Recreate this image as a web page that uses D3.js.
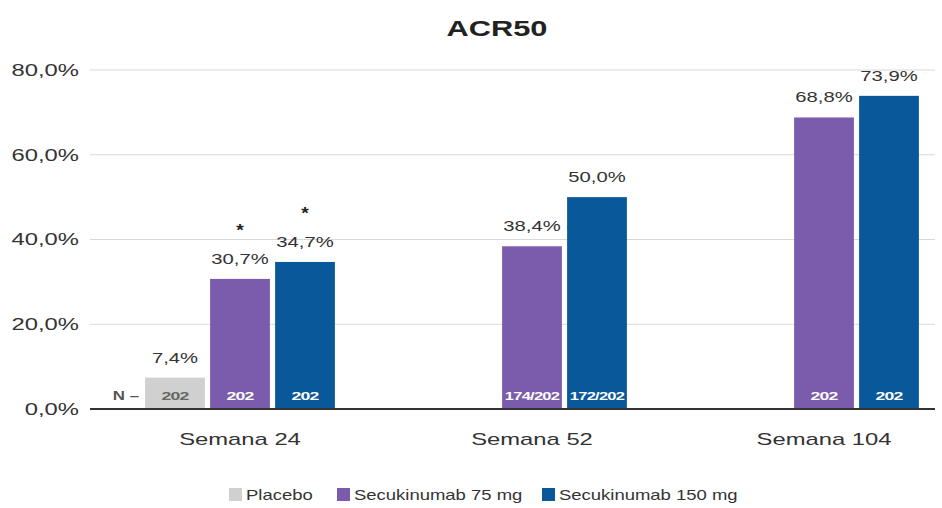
<!DOCTYPE html>
<html>
<head>
<meta charset="utf-8">
<script src="https://cdn.jsdelivr.net/npm/d3@7"></script>
<style>
body{margin:0;background:#fff;}
text{font-family:"Liberation Sans",Arial,sans-serif;}
</style>
</head>
<body>
<script>
// data
var weeks = ["Semana 24", "Semana 52", "Semana 104"];
var series = ["Placebo", "Secukinumab 75 mg", "Secukinumab 150 mg"];
var colours = ["#d0d0d0", "#7b5bab", "#08589a"];
var placebo = [7.4, null, null];
var secu75 = [30.7, 38.4, 68.8];
var secu150 = [34.7, 50.0, 73.9];
var n75 = ["202", "174/202", "202"];
var n150 = ["202", "172/202", "202"];
var nPlacebo = ["202", null, null];
var star75 = [true, false, false];
var star150 = [true, false, false];
var yTicks = [0, 20, 40, 60, 80];

var W = 942, H = 508;
var SX = 1.4; // the reference text looks stretched sideways
var svg = d3.select("body").append("svg").attr("width", W).attr("height", H);

var y = d3.scaleLinear().domain([0, 80]).range([409, 70]);
var x0 = d3.scaleBand().domain(weeks).range([94, 970]).paddingInner(0.35).paddingOuter(0.175);
var x1 = d3.scaleBand().domain(series).range([0, x0.bandwidth()]).paddingInner(0.08);

var fmt = function(v){ return v.toFixed(1).replace(".", ",") + "%"; };

//stretched text at x,y
function sText(parent, x, y, txt, size, anchor, sx){
  return parent.append("text")
    .attr("transform", "translate(" + x + "," + y + ") scale(" + sx + ",1)")
    .attr("text-anchor", anchor).attr("font-size", size).text(txt);
}

// title
sText(svg, 497, 36, "ACR50", 22, "middle", SX).attr("font-weight", "bold").attr("fill", "#222");

// grid
svg.selectAll("line.grid").data(yTicks.slice(1)).enter().append("line")
  .attr("class", "grid")
  .attr("x1", 90).attr("x2", 935)
  .attr("y1", function(d){ return y(d); }).attr("y2", function(d){ return y(d); })
  .attr("stroke", "#d8d8d8").attr("stroke-width", 1);

// y axis labels
var yAxis = d3.axisLeft(y).tickValues(yTicks).tickSize(0).tickPadding(0)
  .tickFormat(function(d){ return fmt(d); });
var ya = svg.append("g").attr("transform", "translate(79,0)").call(yAxis);
ya.select(".domain").remove();
ya.selectAll("text").attr("font-size", 17).attr("fill", "#333")
  .attr("transform", "scale(" + SX + ",1)")
  .attr("font-family", "Liberation Sans, Arial, sans-serif");

// bars
var rows = [];
weeks.forEach(function(w, i){
  [placebo, secu75, secu150].forEach(function(arr, j){
    if(arr[i] == null) return;
    rows.push({
      week: w, s: series[j], v: arr[i], c: colours[j],
      n: [nPlacebo, n75, n150][j][i],
      star: j == 0 ? false : [null, star75, star150][j][i]
    });
  });
});
var cx = function(d){ return x0(d.week) + x1(d.s) + x1.bandwidth()/2; };

var g = svg.append("g");
g.selectAll("rect").data(rows).enter().append("rect")
  .attr("x", function(d){ return x0(d.week) + x1(d.s); })
  .attr("y", function(d){ return y(d.v); })
  .attr("width", x1.bandwidth())
  .attr("height", function(d){ return y(0) - y(d.v); })
  .attr("fill", function(d){ return d.c; });

// value labels, asterisks, N inside bars
rows.forEach(function(d){
  sText(g, cx(d), y(d.v) - 15, fmt(d.v), 15, "middle", 1.35).attr("fill", "#333");
  if(d.star){
    sText(g, cx(d), y(d.v) - 43, "*", 16, "middle", 1.2).attr("font-weight", "bold").attr("fill", "#222");
  }
  sText(g, cx(d), y(0) - 9, d.n, 11, "middle", d.n.length > 3 ? 1.5 : 1.6)
    .attr("font-weight", "bold").attr("letter-spacing", -0.5)
    .attr("fill", d.s == "Placebo" ? "#666" : "#fff");
});

sText(svg, x0(weeks[0]) + x1(series[0]) - 6, y(0) - 9, "N –", 13, "end", 1.3)
  .attr("font-weight", "bold").attr("fill", "#555");

// x axis
svg.append("line").attr("x1", 90).attr("x2", 935).attr("y1", y(0)).attr("y2", y(0))
  .attr("stroke", "#333").attr("stroke-width", 2);
var xAxis = d3.axisBottom(x0).tickSize(0).tickPadding(0);
var xa = svg.append("g").attr("transform", "translate(0," + (y(0) + 24) + ")").call(xAxis);
xa.select(".domain").remove();
xa.selectAll("text").attr("font-size", 17).attr("fill", "#333")
  .attr("transform", "scale(" + SX + ",1)")
  .attr("font-family", "Liberation Sans, Arial, sans-serif");

// legend
var legX = [229, 337, 542];
var leg = svg.selectAll("g.leg").data(series).enter().append("g")
  .attr("class", "leg")
  .attr("transform", function(d, i){ return "translate(" + legX[i] + ",488)"; });
leg.append("rect").attr("width", 13).attr("height", 13)
  .attr("fill", function(d, i){ return colours[i]; });
leg.each(function(d){
  sText(d3.select(this), 17, 12, d, 14, "start", 1.32).attr("fill", "#333");
});
</script>
</body>
</html>
